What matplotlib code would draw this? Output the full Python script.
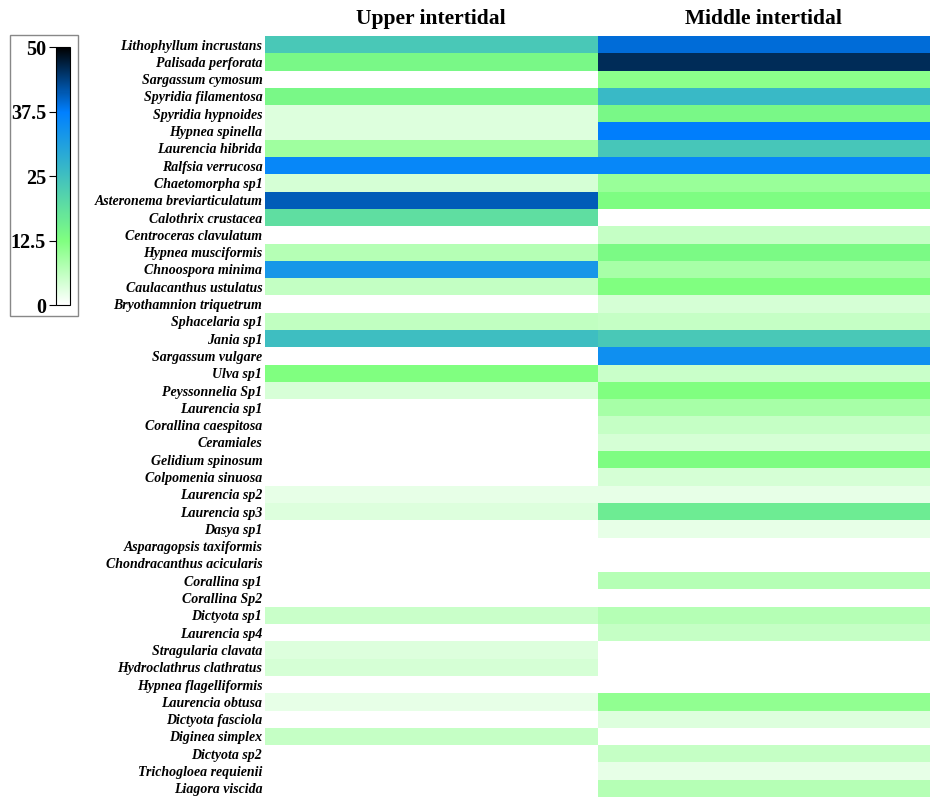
import numpy as np
import matplotlib
matplotlib.use("Agg")
import matplotlib.pyplot as plt
from matplotlib.colors import LinearSegmentedColormap
from matplotlib.patches import Rectangle

species = [
    "Lithophyllum incrustans", "Palisada perforata", "Sargassum cymosum",
    "Spyridia filamentosa", "Spyridia hypnoides", "Hypnea spinella",
    "Laurencia hibrida", "Ralfsia verrucosa", "Chaetomorpha sp1",
    "Asteronema breviarticulatum", "Calothrix crustacea", "Centroceras clavulatum",
    "Hypnea musciformis", "Chnoospora minima", "Caulacanthus ustulatus",
    "Bryothamnion triquetrum", "Sphacelaria sp1", "Jania sp1",
    "Sargassum vulgare", "Ulva sp1", "Peyssonnelia Sp1", "Laurencia sp1",
    "Corallina caespitosa", "Ceramiales", "Gelidium spinosum",
    "Colpomenia sinuosa", "Laurencia sp2", "Laurencia sp3", "Dasya sp1",
    "Asparagopsis taxiformis", "Chondracanthus acicularis", "Corallina sp1",
    "Corallina Sp2", "Dictyota sp1", "Laurencia sp4", "Stragularia clavata",
    "Hydroclathrus clathratus", "Hypnea flagelliformis", "Laurencia obtusa",
    "Dictyota fasciola", "Diginea simplex", "Dictyota sp2",
    "Trichogloea requienii", "Liagora viscida",
]

zones = ["Upper intertidal", "Middle intertidal"]

upper = [23.4, 14, 0, 14, 3.4, 3.4, 9.4, 36, 4.2, 41, 19, 0, 7.4, 33, 6, 0,
         6.2, 25.3, 0, 12.5, 4, 0, 0, 0, 0, 0, 2.5, 3.4, 0, 0, 0, 0, 0, 5.3,
         0, 3.4, 4.2, 0, 2.5, 0, 5.8, 0, 0, 0]
middle = [39.4, 45.6, 11.5, 26.3, 14, 37.5, 23.8, 36, 10, 13, 0, 5.8, 13.5,
          8.6, 12.5, 4.2, 5.8, 23.4, 34.4, 5.3, 12.5, 8.6, 5.8, 4.2, 13, 4.2,
          2.5, 16.4, 2.5, 0, 0, 7.4, 0, 7.4, 5.8, 0, 0, 0, 10.9, 3.4, 0, 5.8,
          2.5, 7.4]

cbar_ticks = [0, 12.5, 25, 37.5, 50]

cmap = LinearSegmentedColormap.from_list(
    "algae", [(0.0, "#ffffff"), (0.25, "#80ff80"), (0.5, "#40c0c0"),
              (0.75, "#0080ff"), (1.0, "#000000")])

data = np.column_stack([upper, middle])

fig = plt.figure(figsize=(9.3, 7.99), dpi=100)
ax = fig.add_axes([0.285, 0.0025, 0.715, 0.9525])
im = ax.pcolormesh(data, cmap=cmap, vmin=0, vmax=50)
ax.set_xlim(0, 2)
ax.set_ylim(len(species), 0)
for s in ax.spines.values():
    s.set_visible(False)

ax.set_yticks(np.arange(len(species)) + 0.5)
ax.set_yticklabels(species, fontfamily="Liberation Serif", fontstyle="italic",
                   fontweight="bold", fontsize=10)
ax.tick_params(axis="y", length=0, pad=2)
ax.xaxis.tick_top()
ax.set_xticks([0.5, 1.5])
ax.set_xticklabels(zones, fontfamily="Liberation Serif", fontweight="bold",
                   fontsize=15.5)
ax.tick_params(axis="x", length=0, pad=5)

cax = fig.add_axes([0.060, 0.618, 0.015, 0.323])
cb = fig.colorbar(im, cax=cax, ticks=cbar_ticks)
cb.outline.set_linewidth(0.8)
cax.yaxis.set_ticks_position("left")
cax.set_yticklabels(["0", "12.5", "25", "37.5", "50"])
for t in cax.get_yticklabels():
    t.set_fontfamily("Liberation Serif")
    t.set_fontweight("bold")
    t.set_fontsize(14.5)
cax.tick_params(axis="y", length=5, width=0.8, pad=2)

fig.patches.append(Rectangle((0.011, 0.6045), 0.073, 0.352, transform=fig.transFigure,
                             fill=False, edgecolor="#888888", linewidth=1))

fig.savefig("out.png", dpi=100)
